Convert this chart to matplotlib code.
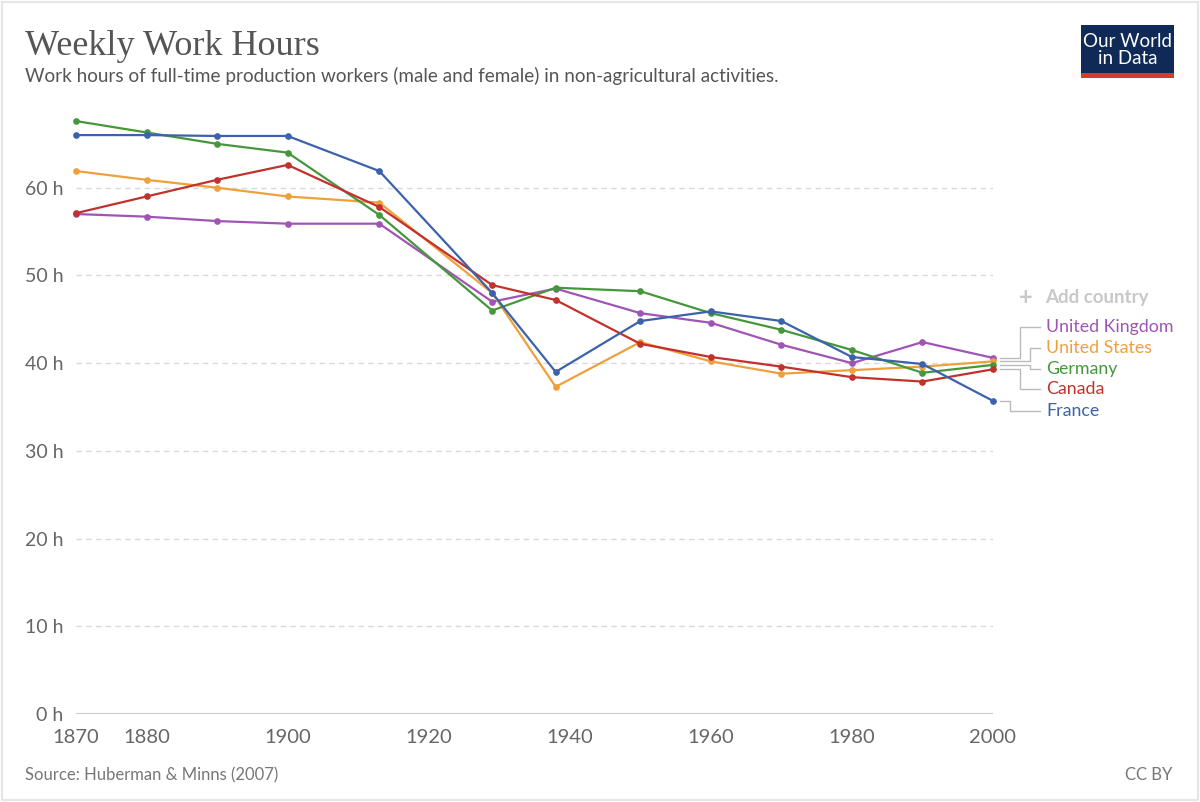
import matplotlib
matplotlib.use("Agg")
import matplotlib.pyplot as plt
from matplotlib.patches import Rectangle

plt.rcParams['font.family'] = ['Lato', 'DejaVu Sans']

years = [1870, 1880, 1890, 1900, 1913, 1929, 1938, 1950, 1960, 1970, 1980, 1990, 2000]

france = [66.0, 66.0, 65.9, 65.9, 61.9, 48.0, 39.0, 44.8, 45.9, 44.8, 40.7, 39.9, 35.7]
germany = [67.6, 66.3, 65.0, 64.0, 56.9, 46.0, 48.6, 48.2, 45.7, 43.8, 41.5, 38.9, 39.8]
uk = [57.0, 56.7, 56.2, 55.9, 55.9, 47.0, 48.5, 45.7, 44.6, 42.1, 40.0, 42.4, 40.6]
us = [61.9, 60.9, 60.0, 59.0, 58.3, 48.0, 37.3, 42.4, 40.2, 38.8, 39.2, 39.6, 40.2]
canada = [57.1, 59.0, 60.9, 62.6, 57.8, 48.9, 47.2, 42.2, 40.7, 39.6, 38.4, 37.9, 39.3]

series = [
    ("United Kingdom", uk, "#a055b5"),
    ("United States", us, "#eea03c"),
    ("Germany", germany, "#46973c"),
    ("Canada", canada, "#c2312c"),
    ("France", france, "#3b62aa"),
]
# legend label positions (hours) and elbow x (year)
label_y = [44.1, 41.7, 39.35, 37.0, 34.6]
elbow_x = [2003.8, 2005.2, 2005.2, 2003.8, 2002.4]

yticks = [0, 10, 20, 30, 40, 50, 60]
xticks = [1870, 1880, 1900, 1920, 1940, 1960, 1980, 2000]

W, H = 1200, 802
fig = plt.figure(figsize=(W / 100, H / 100), dpi=100)

# outer frame
fig.patches.append(Rectangle((2 / W, 2 / H), 1 - 4 / W, 1 - 4 / H, transform=fig.transFigure,
                             fill=False, edgecolor="#e6e6e6", lw=1.5))

ax = fig.add_axes([76 / W, 1 - 714 / H, (993 - 76) / W, (714 - 100) / H])
ax.set_xlim(1870, 2000)
ax.set_ylim(0, 70)

for name, vals, col in series:
    ax.plot(years, vals, color=col, lw=1.6, marker="o", ms=3.8, zorder=3, clip_on=False)

for v in yticks[1:]:
    ax.axhline(v, color="#d9d9d9", lw=1, ls=(0, (4, 3)), zorder=1)
ax.axhline(0, color="#cccccc", lw=1.5, zorder=1)

ax.set_yticks(yticks)
ax.set_yticklabels([f"{v} h" for v in yticks])
ax.set_xticks(xticks)
ax.set_xticklabels([str(x) for x in xticks])
ax.tick_params(axis="y", length=0, pad=9, labelsize=14, labelcolor="#666666")
ax.tick_params(axis="x", length=0, pad=11, labelsize=14.5, labelcolor="#666666")
for s in ax.spines.values():
    s.set_visible(False)

# connector lines to labels
for (name, vals, col), ly, ex in zip(series, label_y, elbow_x):
    ax.plot([2001.0, ex, ex, 2006.6], [vals[-1], vals[-1], ly, ly], color="#bbbbbb",
            lw=1, clip_on=False, zorder=2)
    ax.text(2007.5, ly, name, color=col, fontsize=12.8, va="center", ha="left", clip_on=False)

ax.text(2003.6, 47.5, "+", color="#c8c8c8", fontsize=17, fontweight="bold", va="center", ha="left")
ax.text(2007.4, 47.5, "Add country", color="#c8c8c8", fontsize=13.5, fontweight="bold",
        va="center", ha="left")

fig.text(25 / W, 1 - 55 / H, "Weekly Work Hours", family=["Liberation Serif", "DejaVu Serif"],
         fontsize=26, color="#555555", va="baseline")
fig.text(25 / W, 1 - 82 / H,
         "Work hours of full-time production workers (male and female) in non-agricultural activities.",
         fontsize=13.6, color="#555555", va="baseline")

# logo
fig.patches.append(Rectangle((1081 / W, 1 - 78 / H), 93 / W, 53 / H, transform=fig.transFigure,
                             facecolor="#0f2a56", edgecolor="none"))
fig.patches.append(Rectangle((1081 / W, 1 - 78 / H), 93 / W, 5 / H, transform=fig.transFigure,
                             facecolor="#d33c2b", edgecolor="none"))
fig.text(1127.5 / W, 1 - 50 / H, "Our World\nin Data", color="white", fontsize=13.5,
         ha="center", va="center", linespacing=1.05)

fig.text(25 / W, 1 - 775 / H, "Source: Huberman & Minns (2007)", fontsize=12, color="#777777",
         va="center")
fig.text(1172 / W, 1 - 775 / H, "CC BY", fontsize=12, color="#777777", va="center", ha="right")

fig.savefig("out.png", dpi=100, facecolor="white")
